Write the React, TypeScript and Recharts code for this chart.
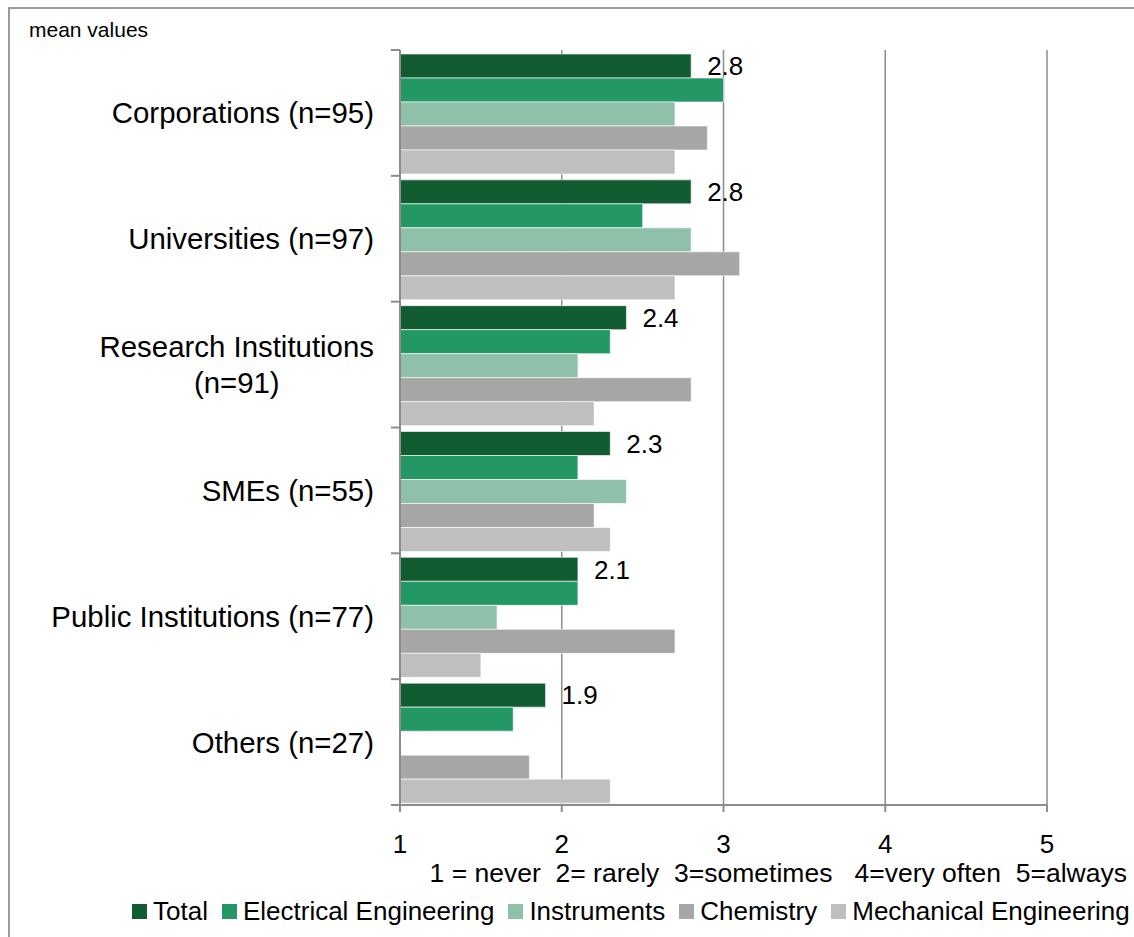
import React from 'react';
import {
    BarChart,
    Bar,
    XAxis,
    YAxis,
    CartesianGrid,
    Legend,
    LabelList
} from 'recharts';

const categories = [
    'Corporations (n=95)',
    'Universities (n=97)',
    'Research Institutions (n=91)',
    'SMEs (n=55)',
    'Public Institutions (n=77)',
    'Others (n=27)'
];

const total = [2.8, 2.8, 2.4, 2.3, 2.1, 1.9];
const electrical = [3.0, 2.5, 2.3, 2.1, 2.1, 1.7];
const instruments = [2.7, 2.8, 2.1, 2.4, 1.6, null];
const chemistry = [2.9, 3.1, 2.8, 2.2, 2.7, 1.8];
const mechanical = [2.7, 2.7, 2.2, 2.3, 1.5, 2.3];

const seriesNames = ['Total', 'Electrical Engineering', 'Instruments', 'Chemistry', 'Mechanical Engineering'];
const seriesKeys = ['total', 'electrical', 'instruments', 'chemistry', 'mechanical'];
const seriesColors = ['#115c30', '#239865', '#8fc0a9', '#a6a6a6', '#bfbfbf'];

const xTicks = [1, 2, 3, 4, 5];
const scaleNote = '1 = never  2= rarely  3=sometimes   4=very often  5=always';

const data = categories.map((name, i) => ({
    name,
    total: total[i],
    electrical: electrical[i],
    instruments: instruments[i],
    chemistry: chemistry[i],
    mechanical: mechanical[i]
}));

const FONT = '"Liberation Sans", Arial, Helvetica, sans-serif';
const AXIS = '#8c8c8c';
const LABEL_SIZE = 29.4;

let ctx: CanvasRenderingContext2D | null = null;
const textWidth = (text: string, size: number) => {
    if (!ctx) ctx = document.createElement('canvas').getContext('2d');
    if (!ctx) return text.length * size * 0.5;
    ctx.font = `${size}px ${FONT}`;
    return ctx.measureText(text).width;
};

const wrap = (text: string, maxWidth: number, size: number) => {
    const words = text.split(' ');
    const lines: string[] = [];
    let cur = '';
    words.forEach((w) => {
        const next = cur ? cur + ' ' + w : w;
        if (cur && textWidth(next, size) > maxWidth) {
            lines.push(cur);
            cur = w;
        } else {
            cur = next;
        }
    });
    if (cur) lines.push(cur);
    return lines;
};

// category labels, plus the small ticks at the band borders (Excel style)
const CategoryTick = (props: any) => {
    const { x, y, payload } = props;
    const axisX = x + 26;
    const half = payload.offset || 63;
    const lines = wrap(String(payload.value), 345, LABEL_SIZE);
    const maxW = Math.max(...lines.map((l) => textWidth(l, LABEL_SIZE)));
    const cx = x - maxW / 2;
    const lh = 36;
    const isLast = payload.value === categories[categories.length - 1];
    return (
        <g>
            <line x1={axisX - 9} x2={axisX} y1={y - half} y2={y - half} stroke={AXIS} strokeWidth={2} />
            {isLast && (
                <line x1={axisX - 9} x2={axisX} y1={y + half} y2={y + half} stroke={AXIS} strokeWidth={2} />
            )}
            {lines.map((l, i) => (
                <text
                    key={i}
                    x={cx}
                    y={y - ((lines.length - 1) * lh) / 2 + i * lh}
                    textAnchor="middle"
                    dominantBaseline="central"
                    fontFamily={FONT}
                    fontSize={LABEL_SIZE}
                    fill="#000"
                >
                    {l}
                </text>
            ))}
        </g>
    );
};

const ScaleNote = (props: any) => {
    const vb = props.viewBox;
    return (
        <text
            x={vb.x + vb.width + 80}
            y={vb.y + 77}
            textAnchor="end"
            fontFamily={FONT}
            fontSize={26.5}
            fill="#000"
            style={{ whiteSpace: 'pre' }}
            xmlSpace="preserve"
        >
            {scaleNote}
        </text>
    );
};

const LegendContent = () => (
    <div
        style={{
            display: 'flex',
            alignItems: 'center',
            height: 30,
            fontFamily: FONT,
            fontSize: 26,
            whiteSpace: 'nowrap',
            color: '#000'
        }}
    >
        {seriesNames.map((name, i) => (
            <div key={name} style={{ display: 'flex', alignItems: 'center', marginRight: 14 }}>
                <span
                    style={{
                        width: 15,
                        height: 15,
                        background: seriesColors[i],
                        marginRight: 6,
                        display: 'inline-block'
                    }}
                />
                {name}
            </div>
        ))}
    </div>
);

const App: React.FC = () => {
    return (
        <div style={{ position: 'fixed', left: 0, top: 0, width: 1134, height: 937, overflow: 'hidden', background: '#fff' }}>
            <div
                style={{
                    position: 'absolute',
                    left: 8,
                    top: 7,
                    width: 1140,
                    height: 940,
                    borderLeft: '2px solid #9a9a9a',
                    borderTop: '2px solid #9a9a9a'
                }}
            />
            <div
                style={{
                    position: 'absolute',
                    left: 29,
                    top: 19,
                    fontFamily: FONT,
                    fontSize: 21,
                    lineHeight: '22px',
                    color: '#000'
                }}
            >
                mean values
            </div>
            <BarChart
                width={1134}
                height={937}
                data={data}
                layout="vertical"
                barCategoryGap={4}
                barGap={0}
                margin={{ top: 50, right: 87, left: 0, bottom: 22 }}
                style={{ position: 'absolute', left: 0, top: 0 }}
            >
                <CartesianGrid horizontal={false} stroke={AXIS} strokeWidth={1.5} />
                <XAxis
                    type="number"
                    domain={[1, 5]}
                    ticks={xTicks}
                    allowDataOverflow
                    height={80}
                    axisLine={{ stroke: AXIS, strokeWidth: 2 }}
                    tickLine={{ stroke: AXIS, strokeWidth: 2 }}
                    tickSize={7}
                    tickMargin={23}
                    tick={{ fontFamily: FONT, fontSize: 26, fill: '#000' }}
                    label={ScaleNote}
                />
                <YAxis
                    type="category"
                    dataKey="name"
                    width={400}
                    axisLine={{ stroke: AXIS, strokeWidth: 2 }}
                    tickLine={false}
                    tickSize={8}
                    tickMargin={18}
                    interval={0}
                    tick={<CategoryTick />}
                />
                <Legend
                    verticalAlign="bottom"
                    content={<LegendContent />}
                    wrapperStyle={{ left: 132, top: 896, bottom: 'auto', width: 1002, height: 30 }}
                />
                {seriesKeys.map((key, i) => (
                    <Bar
                        key={key}
                        dataKey={key}
                        name={seriesNames[i]}
                        fill={seriesColors[i]}
                        stroke="#fff"
                        strokeWidth={1}
                        strokeOpacity={0.6}
                        isAnimationActive={false}
                    >
                        {key === 'total' && (
                            <LabelList
                                dataKey="total"
                                position="right"
                                offset={16}
                                formatter={(v: any) => Number(v).toFixed(1)}
                                style={{ fontFamily: FONT, fontSize: 26, fill: '#000' }}
                            />
                        )}
                    </Bar>
                ))}
            </BarChart>
        </div>
    );
};

export default App;
